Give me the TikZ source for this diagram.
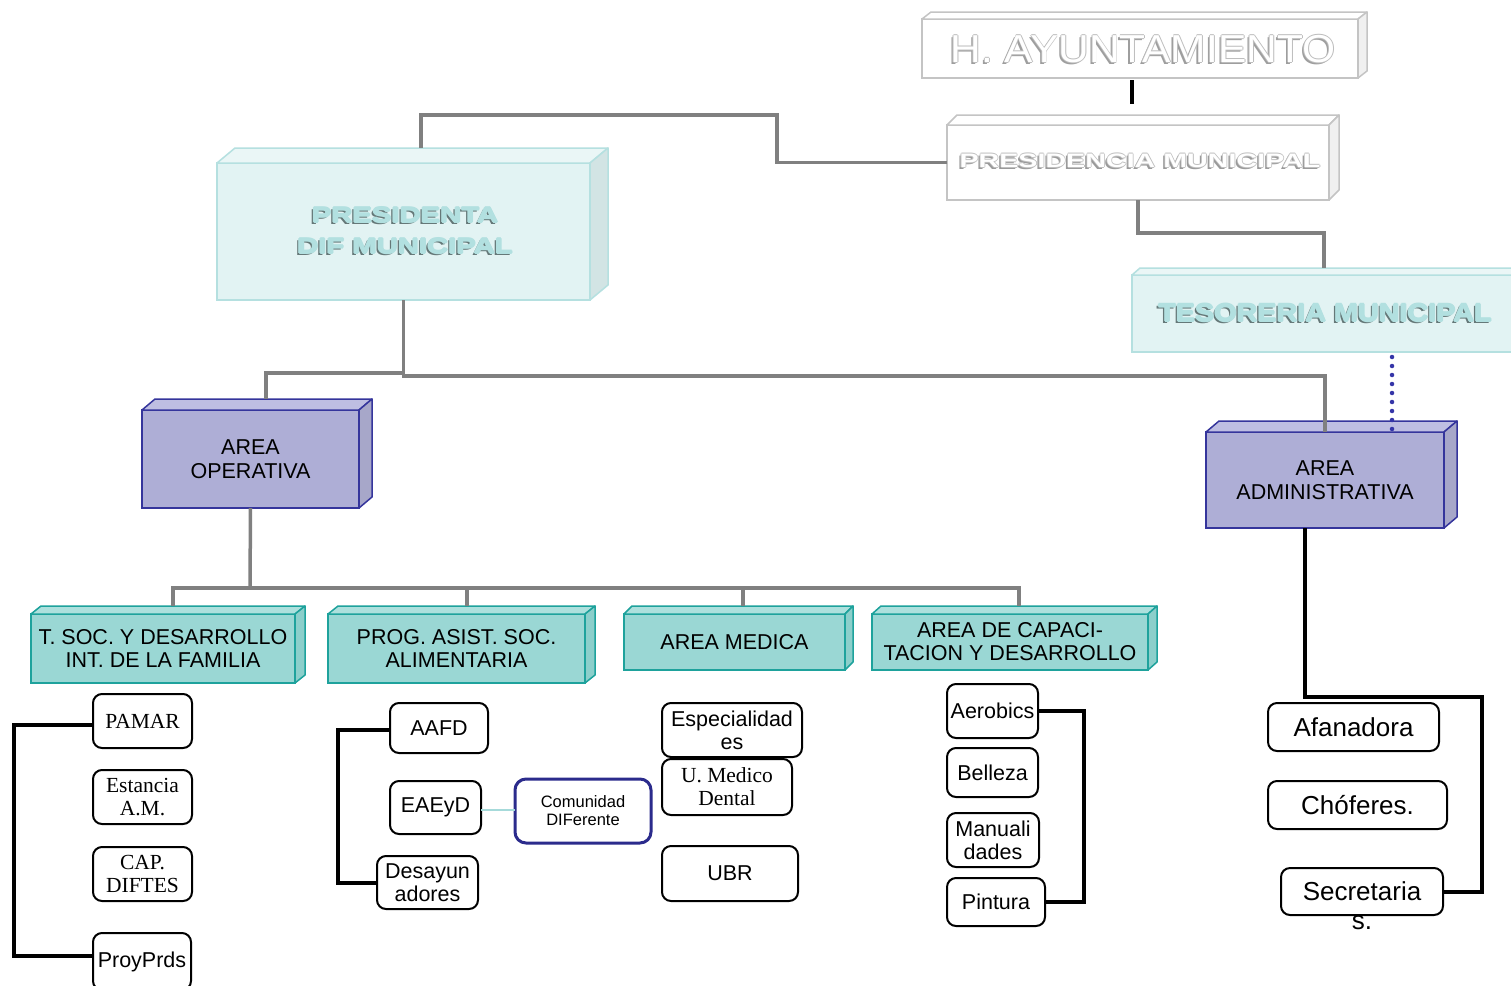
\documentclass[tikz,border=0pt]{standalone}
\usepackage{fontspec}
\setmainfont{Liberation Serif}
\setsansfont{Liberation Sans}
\usepackage{graphicx}
\definecolor{gedge}{HTML}{C4C4C4}
\definecolor{gside}{HTML}{F0F0F0}
\definecolor{ctop}{HTML}{EAF6F6}
\definecolor{cfront}{HTML}{E2F3F3}
\definecolor{cside}{HTML}{D2E4E4}
\definecolor{cedge}{HTML}{B5E0E0}
\definecolor{ptop}{HTML}{BEBEE2}
\definecolor{pfront}{HTML}{AEAED6}
\definecolor{pside}{HTML}{A7A7C9}
\definecolor{pedge}{HTML}{35359C}
\definecolor{ttop}{HTML}{ADE0DD}
\definecolor{tfront}{HTML}{9AD7D4}
\definecolor{tside}{HTML}{8CCFCB}
\definecolor{tedge}{HTML}{1EA29C}
\definecolor{conngray}{HTML}{808080}
\definecolor{comuedge}{HTML}{2B2B8C}
\definecolor{cyanline}{HTML}{A6DADA}
\definecolor{dotblue}{HTML}{3535A8}
\definecolor{aout}{HTML}{BDBDBD}
\definecolor{ashad}{HTML}{9E9E9E}
\definecolor{pmout}{HTML}{C0C0C0}
\definecolor{pmshad}{HTML}{9A9A9A}
\definecolor{embcyan}{HTML}{B2E0E0}
\definecolor{embcout}{HTML}{B2E0E0}
\definecolor{embcshad}{HTML}{657878}

\newcommand\fntAy{\sffamily\fontsize{39}{40}\selectfont}
\newcommand\fntPm{\sffamily\bfseries\fontsize{19.5}{20}\selectfont}
\newcommand\fntPd{\sffamily\bfseries\fontsize{21.5}{31}\selectfont}
\newcommand\fntTe{\sffamily\bfseries\fontsize{25}{26}\selectfont}
\newcommand\fntSm{\sffamily\fontsize{21.5}{23}\selectfont}
\newcommand\fntSr{\rmfamily\fontsize{21.5}{23}\selectfont}
\newcommand\fntBg{\sffamily\fontsize{26}{29}\selectfont}
\newcommand\fntCo{\sffamily\fontsize{16.5}{18}\selectfont}
\newcommand\fntAr{\sffamily\fontsize{21.5}{24}\selectfont}

% embossed text: #1 text, #2 fill, #3 outline, #4 shadow
\newcommand\embtx[4]{\leavevmode
  \rlap{\kern-2pt\raisebox{-2pt}[0pt][0pt]{\textcolor{#4}{#1}}}%
  \rlap{\kern-0.8pt\textcolor{#3}{#1}}%
  \rlap{\kern0.8pt\textcolor{#3}{#1}}%
  \rlap{\raisebox{0.8pt}[0pt][0pt]{\textcolor{#3}{#1}}}%
  \rlap{\raisebox{-0.8pt}[0pt][0pt]{\textcolor{#3}{#1}}}%
  \textcolor{#2}{#1}}

\tikzset{
  facebase/.style={rectangle, inner sep=0pt, outer sep=0pt, align=center},
  gface/.style={facebase, draw=gedge, fill=white, line width=1.5pt},
  cface/.style={facebase, draw=cedge, fill=cfront, line width=1.5pt},
  pface/.style={facebase, draw=pedge, fill=pfront, line width=2pt, font=\fntAr},
  tface/.style={facebase, draw=tedge, fill=tfront, line width=2pt, font=\fntSm},
  rbox/.style={rectangle, draw=black, line width=2pt, rounded corners=9pt, fill=white,
     inner sep=0pt, outer sep=0pt, align=center, font=\fntSm},
  rboxs/.style={rbox, font=\fntSr},
  rboxb/.style={rbox, font=\fntBg},
  conn/.style={draw=conngray, line width=3.5pt},
  brk/.style={draw=black, line width=4pt},
  dotline/.style={draw=dotblue, line width=4.5pt, line cap=round, dash pattern=on 0pt off 9pt},
  embf/.style={inner sep=0pt, outer sep=0pt, align=center}
}

\newcommand\cubefaces[6]{%
  \filldraw[draw=#6, fill=#4, line width=1.5pt, line join=round]
    (#1.north west) -- ++(#2,-#3) -- ([shift={(#2,-#3)}]#1.north east) -- (#1.north east) -- cycle;
  \filldraw[draw=#6, fill=#5, line width=1.5pt, line join=round]
    (#1.north east) -- ++(#2,-#3) -- ([shift={(#2,-#3)}]#1.south east) -- (#1.south east) -- cycle;}

\begin{document}
\begin{tikzpicture}[x=1pt,y=-1pt]
\useasboundingbox (0,0) rectangle (1511,985);
\fill[white] (0,0) rectangle (1511,985);

% ---- top boxes
\node[gface, minimum width=436pt, minimum height=59pt] (ayunt) at (1140,48.5) {};
\cubefaces{ayunt}{9}{7}{white}{gside}{gedge}
\node[embf, font=\fntAy] (ayT) at (1143,49)
  {\embtx{\scalebox{1.09}[1]{H. AYUNTAMIENTO}}{white}{aout}{ashad}};

\node[gface, minimum width=382pt, minimum height=75pt] (presm) at (1138,162.5) {};
\cubefaces{presm}{10}{10}{white}{gside}{gedge}
\node[embf, font=\fntPm] (pmT) at (1140,161)
  {\embtx{\scalebox{1.47}[1]{PRESIDENCIA MUNICIPAL}}{white}{pmout}{pmshad}};

\node[cface, minimum width=373pt, minimum height=137pt] (presd) at (403.5,231.5) {};
\cubefaces{presd}{18}{15}{ctop}{cside}{cedge}
\node[embf, font=\fntPd] (pdT) at (405,230.5)
  {\embtx{\scalebox{1.36}[1]{PRESIDENTA}}{embcyan}{embcout}{embcshad}\\
   \embtx{\scalebox{1.36}[1]{DIF MUNICIPAL}}{embcyan}{embcout}{embcshad}};

\node[cface, minimum width=408pt, minimum height=77pt] (teso) at (1336,313.5) {};
\cubefaces{teso}{8}{7}{ctop}{cside}{cedge}
\node[embf, font=\fntTe] (teT) at (1325,313)
  {\embtx{\scalebox{1.15}[1]{TESORERIA MUNICIPAL}}{embcyan}{embcout}{embcshad}};

% ---- areas
\node[pface, minimum width=217pt, minimum height=98pt] (opera) at (250.5,459) {AREA\\OPERATIVA};
\cubefaces{opera}{13}{11}{ptop}{pside}{pedge}
\node[pface, minimum width=238pt, minimum height=96pt] (admin) at (1325,480) {AREA\\ADMINISTRATIVA};
\cubefaces{admin}{13}{11}{ptop}{pside}{pedge}

% ---- teal departments
\node[tface, minimum width=264pt, minimum height=69pt] (tsoc) at (163,648.5) {T. SOC. Y DESARROLLO\\INT. DE LA FAMILIA};
\cubefaces{tsoc}{10}{8}{ttop}{tside}{tedge}
\node[tface, minimum width=257pt, minimum height=69pt] (prog) at (456.5,648.5) {PROG. ASIST. SOC.\\ALIMENTARIA};
\cubefaces{prog}{10}{8}{ttop}{tside}{tedge}
\node[tface, minimum width=221pt, minimum height=56pt] (amed) at (734.5,642) {AREA MEDICA};
\cubefaces{amed}{8}{8}{ttop}{tside}{tedge}
\node[tface, minimum width=276pt, minimum height=56pt] (acap) at (1010,642) {AREA DE CAPACI-\\TACION Y DESARROLLO};
\cubefaces{acap}{9}{8}{ttop}{tside}{tedge}

% ---- small boxes
\node[rboxs, minimum width=99pt, minimum height=54pt] (pamar) at (142.5,721) {PAMAR};
\node[rboxs, minimum width=99pt, minimum height=54pt] (estan) at (142.5,797) {Estancia\\A.M.};
\node[rboxs, minimum width=99pt, minimum height=54pt] (capd) at (142.5,874) {CAP.\\DIFTES};
\node[rbox, minimum width=98pt, minimum height=57pt] (proy) at (142,961.5) {ProyPrds};

\node[rbox, minimum width=98pt, minimum height=50pt] (aafd) at (439,728) {AAFD};
\node[rbox, minimum width=91pt, minimum height=53pt] (eaeyd) at (435.5,807.5) {EAEyD};
\node[rbox, minimum width=101pt, minimum height=53pt] (desay) at (427.5,882.5) {Desayun\\adores};
\node[rbox, draw=comuedge, line width=3pt, rounded corners=11pt, minimum width=136pt, minimum height=64pt,
      font=\fntCo] (comu) at (583,811) {Comunidad\\DIFerente};

\node[rbox, minimum width=140pt, minimum height=54pt] (espec) at (732,730) {Especialidad\\es};
\node[rboxs, minimum width=130pt, minimum height=56pt] (umed) at (727,787) {U. Medico\\Dental};
\node[rbox, minimum width=136pt, minimum height=55pt] (ubr) at (730,873.5) {UBR};

\node[rbox, minimum width=91pt, minimum height=54pt] (aero) at (992.5,711) {Aerobics};
\node[rbox, minimum width=91pt, minimum height=49pt] (bell) at (992.5,772.5) {Belleza};
\node[rbox, minimum width=92pt, minimum height=54pt] (manu) at (993,840) {Manuali\\dades};
\node[rbox, minimum width=98pt, minimum height=48pt] (pint) at (996,902) {Pintura};

\node[rboxb, minimum width=171pt, minimum height=48pt] (afan) at (1353.5,727) {Afanadora};
\node[rboxb, minimum width=179pt, minimum height=48pt] (chof) at (1357.5,805) {Chóferes.};
\node[rboxb, minimum width=162pt, minimum height=47pt] (secr) at (1362,891.5) {};
\node[font=\fntBg, align=center, inner sep=0pt] (secrT) at (1362,906) {Secretaria\\s.};

% ---- connectors
\draw[brk] ([shift={(-8,2)}]ayunt.south) -- ([shift={(-6,-21)}]presm.north);
\draw[conn] (presm.west) -| (777,115) -| ([shift={(17.5,-15)}]presd.north);
\draw[conn] (presm.south) -- ++(0,33) -| ([shift={(-12,-7)}]teso.north);
\draw[dotline] ([shift={(56,5)}]teso.south) -- ([shift={(67,-3)}]admin.north);
\draw[conn] (presd.south) -- ++(0,76) -| (admin.north);
\draw[conn] ([shift={(1.5,73)}]presd.south) -| ([shift={(15.5,-11)}]opera.north);

\coordinate (hub) at (250,588);
\draw[conn] (opera.south) -- (hub);
\draw[conn] ([shift={(10,-8)}]tsoc.north) -- ++(0,-18) -| ([shift={(9,-8)}]acap.north);
\draw[conn] ([shift={(10.5,-8)}]prog.north) -- ++(0,-18);
\draw[conn] ([shift={(8.5,-8)}]amed.north) -- ++(0,-18);

\draw[brk] ([shift={(0,4)}]pamar.west) -- ++(-79,0) |- ([shift={(0,-6)}]proy.west);
\draw[brk] ([shift={(0,2)}]aafd.west) -- ++(-52,0) |- (desay.west);
\draw[draw=cyanline, line width=2pt] ([shift={(0,2.5)}]eaeyd.east) -- ([shift={(0,-1)}]comu.west);
\draw[brk] (aero.east) -- ++(46,0) |- (pint.east);
\coordinate (admc) at (1482,697);
\draw[brk] ([shift={(-20,0)}]admin.south) |- (admc) |- (secr.east);
\end{tikzpicture}
\end{document}
